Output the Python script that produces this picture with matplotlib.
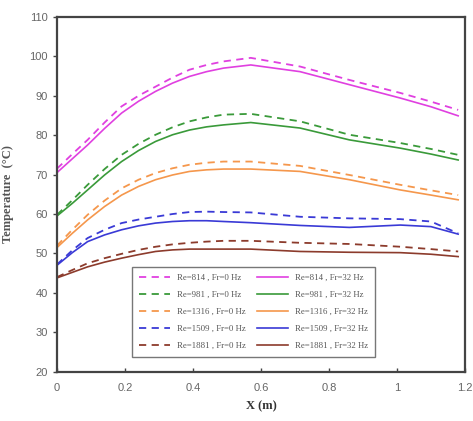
import matplotlib
matplotlib.use("Agg")
import matplotlib.pyplot as plt

# positions along the channel (m)
x = [0, 0.045, 0.09, 0.14, 0.19, 0.24, 0.29, 0.34, 0.39, 0.44, 0.49, 0.57,
     0.715, 0.86, 1.01, 1.1, 1.18]

# Fr = 0 Hz (dashed)
t814_0 = [71.5, 75.2, 78.8, 83.2, 87.3, 90.0, 92.3, 94.6, 96.6, 97.8, 98.7, 99.6,
          97.4, 94.0, 90.7, 88.5, 86.4]
t981_0 = [59.8, 63.5, 67.4, 71.4, 75.0, 77.8, 80.1, 82.0, 83.5, 84.5, 85.2, 85.4,
          83.5, 80.1, 78.0, 76.5, 75.0]
t1316_0 = [52.0, 56.0, 59.8, 63.4, 66.5, 68.7, 70.4, 71.6, 72.5, 73.0, 73.3, 73.3,
           72.2, 69.9, 67.4, 66.0, 64.8]
t1509_0 = [47.2, 50.8, 53.9, 56.0, 57.7, 58.6, 59.3, 60.0, 60.5, 60.6, 60.5, 60.4,
           59.3, 58.9, 58.7, 58.1, 55.1]
t1881_0 = [44.0, 45.8, 47.5, 48.8, 49.9, 50.9, 51.7, 52.3, 52.7, 53.0, 53.2, 53.2,
           52.7, 52.4, 51.7, 51.1, 50.5]

# Fr = 32 Hz (solid)
t814_32 = [70.5, 74.0, 77.5, 81.7, 85.6, 88.6, 91.1, 93.2, 94.9, 96.1, 97.0, 97.8,
           96.1, 92.8, 89.4, 87.2, 84.9]
t981_32 = [59.5, 62.7, 66.1, 69.9, 73.3, 76.1, 78.4, 80.1, 81.3, 82.1, 82.6, 83.2,
           81.8, 78.8, 76.7, 75.2, 73.7]
t1316_32 = [51.5, 55.1, 58.5, 61.9, 64.8, 67.0, 68.7, 69.9, 70.8, 71.2, 71.4, 71.4,
            70.8, 68.7, 66.1, 64.8, 63.6]
t1509_32 = [47.0, 50.2, 53.0, 54.7, 56.0, 57.0, 57.7, 58.1, 58.3, 58.3, 58.1, 57.8,
            57.1, 56.6, 57.2, 56.8, 54.9]
t1881_32 = [43.8, 45.2, 46.6, 47.8, 48.8, 49.7, 50.5, 50.9, 51.1, 51.1, 51.1, 51.1,
            50.5, 50.3, 50.2, 49.8, 49.2]

re_labels = ["814", "981", "1316", "1509", "1881"]
colors = ["#e040e0", "#3a9a3a", "#f5974c", "#3a3ad6", "#8c3b2c"]

fig = plt.figure(figsize=(4.73, 4.21), dpi=100)
ax = fig.add_axes([0.1205, 0.117, 0.8625, 0.843])

dashed = [t814_0, t981_0, t1316_0, t1509_0, t1881_0]
solid = [t814_32, t981_32, t1316_32, t1509_32, t1881_32]

handles = []
for re, c, d in zip(re_labels, colors, dashed):
    h, = ax.plot(x, d, color=c, lw=1.3, ls=(0, (4, 3)),
                 label="Re=" + re + " , Fr=0 Hz")
    handles.append(h)
for re, c, s in zip(re_labels, colors, solid):
    h, = ax.plot(x, s, color=c, lw=1.2, label="Re=" + re + " , Fr=32 Hz")
    handles.append(h)

ax.set_xlim(0, 1.2)
ax.set_ylim(20, 110)
ax.set_xticks([0, 0.2, 0.4, 0.6, 0.8, 1, 1.2])
ax.set_xticklabels(["0", "0.2", "0.4", "0.6", "0.8", "1", "1.2"])
ax.set_yticks(range(20, 111, 10))

for sp in ax.spines.values():
    sp.set_color("#444444")
    sp.set_linewidth(1.6)
ax.tick_params(axis="both", labelsize=8, colors="#444444", labelcolor="#666666",
               length=3, width=1, direction="out")
ax.tick_params(axis="x", direction="in", pad=8)
for lab in ax.get_xticklabels() + ax.get_yticklabels():
    lab.set_family("Liberation Sans")

ax.set_xlabel("X (m)", family="Liberation Serif", fontweight="bold",
              fontsize=9, color="#333333", labelpad=5)
ax.set_ylabel("Temperature  (°C)", family="Liberation Serif", fontweight="bold",
              fontsize=9, color="#555555", labelpad=11)

leg = ax.legend(handles=handles, ncol=2, loc="lower left",
                bbox_to_anchor=(0.174, 0.03, 0.616, 0.256), mode="expand",
                prop={"family": "Liberation Serif", "size": 6.3},
                fancybox=False, edgecolor="#777777", framealpha=1,
                handlelength=3.5, labelspacing=1.0, columnspacing=1.5,
                borderpad=0.8)
leg.get_frame().set_linewidth(1.0)
for t in leg.get_texts():
    t.set_color("#555555")

fig.savefig("out.png", dpi=100)
